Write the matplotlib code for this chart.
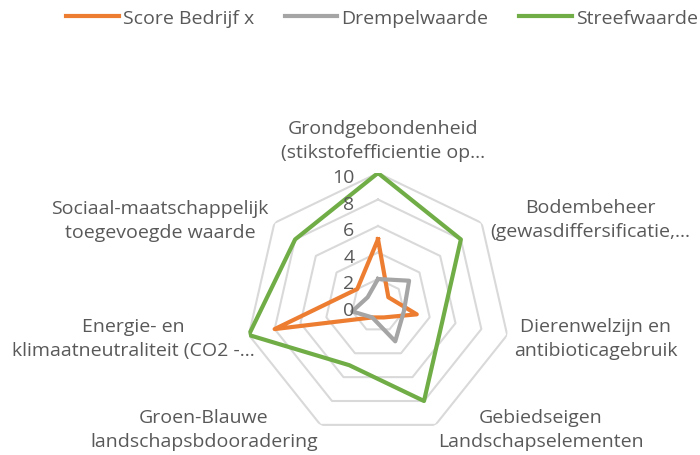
import numpy as np
import matplotlib
matplotlib.use("Agg")
import matplotlib.pyplot as plt

# categories (clockwise from the top)
categories = [
    "Grondgebondenheid\n(stikstofefficientie op...",
    "Bodembeheer\n(gewasdiffersificatie,...",
    "Dierenwelzijn en\nantibioticagebruik",
    "Gebiedseigen\nLandschapselementen",
    "Groen-Blauwe\nlandschapsbdooradering",
    "Energie- en\nklimaatneutraliteit (CO2 -...",
    "Sociaal-maatschappelijk\ntoegevoegde waarde",
]
score = [5, 1, 3, 1, 1, 8, 2]
drempel = [2, 3, 2, 3, 1, 2, 1]
streef = [10, 8, 5, 8, 5, 10, 8]
ring_values = [2, 4, 6, 8, 10]
tick_labels = ["0", "2", "4", "6", "8", "10"]

plt.rcParams['font.family'] = ['Open Sans', 'DejaVu Sans']
txt_color = "#595959"
fs = 14
W, H = 700, 456

fig = plt.figure(figsize=(7, 4.56), dpi=100)
# center (378, 306.5) px, radius 132.5 px
cx, cy, R = 378, 306.5, 132.5
ax = fig.add_axes([(cx - R) / W, (H - cy - R) / H, 2 * R / W, 2 * R / H], projection="polar")
ax.set_theta_zero_location("N")
ax.set_theta_direction(-1)
ax.set_ylim(0, 10)
ax.axis("off")

n = len(categories)
angles = np.linspace(0, 2 * np.pi, n, endpoint=False)
closed = np.append(angles, angles[0])

# heptagon gridlines
for v in ring_values:
    ax.plot(closed, [v] * (n + 1), color="#d9d9d9", lw=1.5, zorder=1)

def close(vals):
    return list(vals) + [vals[0]]

ax.plot(closed, close(score), color="#ED7D31", lw=3, label="Score Bedrijf x", zorder=3)
ax.plot(closed, close(drempel), color="#A5A5A5", lw=3, label="Drempelwaarde", zorder=3)
ax.plot(closed, close(streef), color="#70AD47", lw=3, label="Streefwaarde", zorder=4)

# radial tick labels left of the vertical axis
for i, t in enumerate(tick_labels):
    ax.annotate(t, xy=(0, i * 2), xytext=(-17, -3), textcoords="offset points",
                ha="right", va="center", fontsize=fs, color=txt_color, zorder=5)

# category labels
label_pos = [(383, 141), (590, 220), (596, 339), (541, 430), (204, 430), (133, 339), (160, 221)]
for lab, (x, y) in zip(categories, label_pos):
    fig.text(x / W, 1 - y / H, lab, ha="center", va="center", fontsize=fs,
             color=txt_color, linespacing=1.42)

leg = fig.legend(loc="center", bbox_to_anchor=(382 / W, 1 - 19 / H), ncol=3, frameon=False,
                 fontsize=fs, handlelength=2.7, columnspacing=1.6, handletextpad=0.2)
for t in leg.get_texts():
    t.set_color(txt_color)

fig.savefig("out.png", dpi=100)
